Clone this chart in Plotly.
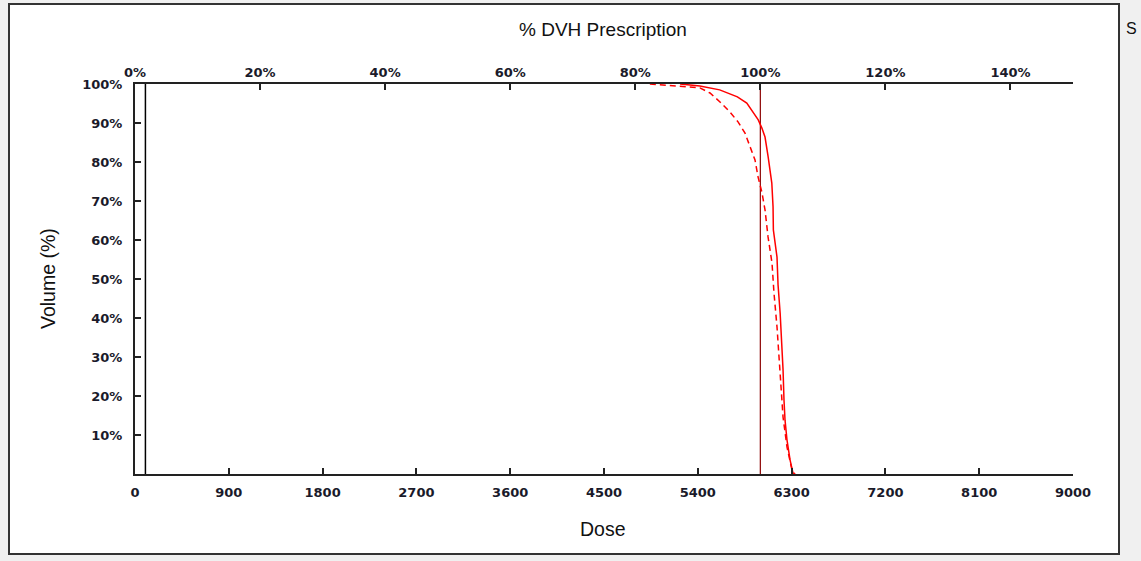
import plotly.graph_objects as go

# Data
solid_dose = [5230, 5420, 5610, 5780, 5870, 5930, 5980, 6015, 6045, 6075, 6110, 6122, 6125, 6160, 6170, 6190, 6208, 6218, 6227, 6237, 6256, 6285, 6313, 6330]
solid_vol = [100, 99.5, 98.5, 96.7, 95.1, 92.8, 90.8, 88.7, 86.4, 81.3, 74.6, 68.5, 62.6, 55.6, 48.5, 41.3, 33.6, 26.7, 19.0, 13.8, 8.7, 3.6, 0.3, 0]

dashed_dose = [4940, 5066, 5420, 5517, 5613, 5709, 5786, 5853, 5901, 5949, 5978, 6016, 6045, 6074, 6112, 6131, 6160, 6179, 6198, 6218, 6256, 6304, 6333]
dashed_vol = [100, 99.7, 99.0, 97.7, 95.4, 92.8, 90.3, 87.4, 83.8, 80.5, 76.2, 72.1, 67.7, 60.8, 54.1, 46.4, 37.7, 29.2, 22.3, 14.6, 6.9, 1.0, 0]

prescription_dose = 6000
ref_dose = 100

x_ticks = [0, 900, 1800, 2700, 3600, 4500, 5400, 6300, 7200, 8100, 9000]
y_ticks = [10, 20, 30, 40, 50, 60, 70, 80, 90, 100]
y_ticktext = [f"{v}%" for v in y_ticks]
top_ticks = [0, 20, 40, 60, 80, 100, 120, 140]
top_ticktext = [f"{v}%" for v in top_ticks]

W, H = 1141, 561
L, R, T, B = 135, 1073, 84, 474

fig = go.Figure()
fig.add_trace(go.Scatter(x=[ref_dose, ref_dose], y=[0, 100], mode="lines",
                         line=dict(color="black", width=1.5), showlegend=False, hoverinfo="skip"))
fig.add_trace(go.Scatter(x=[prescription_dose, prescription_dose], y=[0, 100], mode="lines",
                         line=dict(color="#8b0000", width=1.2), showlegend=False, hoverinfo="skip"))
fig.add_trace(go.Scatter(x=dashed_dose, y=dashed_vol, mode="lines",
                         line=dict(color="#ff0000", width=1.5, dash="6px,4px"), showlegend=False))
fig.add_trace(go.Scatter(x=solid_dose, y=solid_vol, mode="lines",
                         line=dict(color="#ff0000", width=1.5), showlegend=False))
# invisible trace to activate the top axis
fig.add_trace(go.Scatter(x=[0, 150], y=[0, 0], xaxis="x2", mode="lines",
                         line=dict(width=0), opacity=0, showlegend=False, hoverinfo="skip"))

tickfont = dict(family="DejaVu Sans, Verdana", size=13, color="#1a1a2a", weight="bold")
axis_common = dict(showgrid=False, zeroline=False, showline=True, linecolor="#222222", linewidth=2,
                   ticks="inside", ticklen=6, tickwidth=1.5, tickcolor="#222222", tickfont=tickfont)

fig.update_layout(
    width=W, height=H,
    margin=dict(l=L, r=W - R, t=T, b=H - B, pad=0),
    paper_bgcolor="#f0f0f0",
    plot_bgcolor="rgba(0,0,0,0)",
    xaxis=dict(range=[0, 9000], tickvals=x_ticks, ticktext=[str(v) for v in x_ticks],
               ticklabelstandoff=5, **axis_common),
    xaxis2=dict(range=[0, 150], overlaying="x", side="top", tickvals=top_ticks, ticktext=top_ticktext,
                **axis_common),
    yaxis=dict(range=[0, 100], tickvals=y_ticks, ticktext=y_ticktext, ticklabelstandoff=8, **axis_common),
    font=dict(family="Liberation Sans, Arial"),
)

pw, ph = R - L, B - T
def px(x):
    return (x - L) / pw
def py(y):
    return (B - y) / ph

fig.add_shape(type="rect", xref="paper", yref="paper", x0=px(9), x1=px(1119), y0=py(554), y1=py(4),
              fillcolor="white", line=dict(color="#333333", width=2), layer="below")

fig.add_annotation(text="% DVH Prescription", xref="paper", yref="paper", x=px(603), y=py(29),
                   showarrow=False, font=dict(family="Liberation Sans, Arial", size=19, color="#111111"),
                   xanchor="center", yanchor="middle")
fig.add_annotation(text="Dose", xref="paper", yref="paper", x=px(603), y=py(529),
                   showarrow=False, font=dict(family="Liberation Sans, Arial", size=19.5, color="#111111"),
                   xanchor="center", yanchor="middle")
fig.add_annotation(text="Volume (%)", xref="paper", yref="paper", x=px(48), y=py(279), textangle=-90,
                   showarrow=False, font=dict(family="Liberation Sans, Arial", size=19.5, color="#111111"),
                   xanchor="center", yanchor="middle")
fig.add_annotation(text="S", xref="paper", yref="paper", x=px(1125), y=py(28),
                   showarrow=False, font=dict(family="Liberation Sans, Arial", size=16, color="#111111"),
                   xanchor="left", yanchor="middle", borderpad=0)

fig.write_html("out.html")
